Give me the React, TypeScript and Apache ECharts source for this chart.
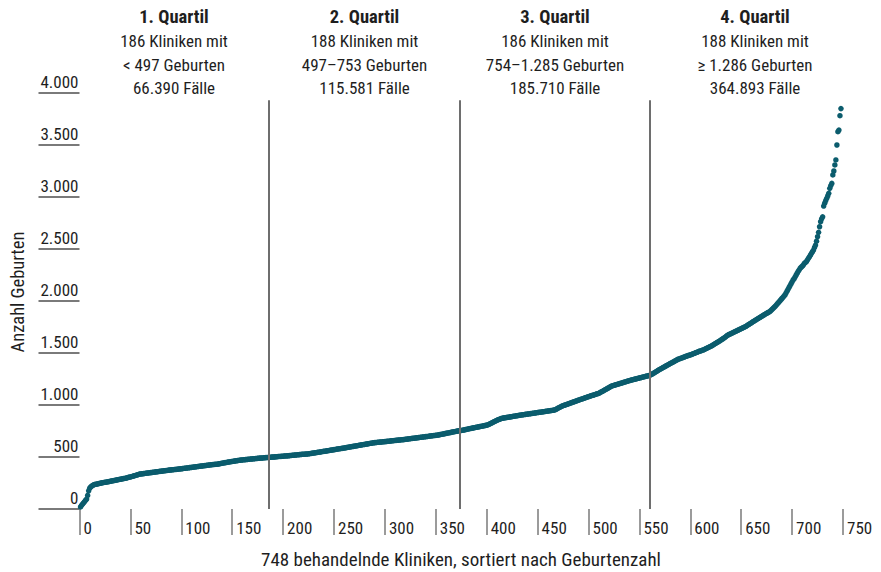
import React, { useEffect, useRef } from "react";
import * as echarts from "echarts";

// Births per clinic, sorted ascending, split by quartile
const q1Births = [
  20, 35, 48, 60, 72, 85, 95, 130, 175, 200,
  212, 220, 228, 232, 236, 238, 240, 242, 245, 247,
  249, 251, 253, 255, 257, 258, 260, 262, 264, 266,
  268, 270, 272, 274, 276, 278, 280, 282, 284, 286,
  288, 290, 292, 294, 295, 298, 301, 304, 306, 308,
  311, 314, 317, 320, 323, 326, 329, 332, 336, 337,
  338, 339, 341, 342, 343, 345, 346, 347, 349, 350,
  351, 353, 354, 355, 357, 358, 359, 361, 362, 363,
  364, 366, 367, 368, 370, 371, 372, 374, 375, 376,
  377, 378, 379, 380, 381, 382, 384, 385, 386, 387,
  388, 390, 391, 392, 394, 395, 396, 398, 399, 400,
  401, 403, 404, 405, 407, 408, 409, 411, 412, 413,
  414, 416, 417, 418, 420, 421, 422, 424, 425, 426,
  427, 428, 429, 430, 431, 432, 434, 436, 438, 440,
  442, 444, 446, 447, 449, 451, 452, 454, 456, 457,
  459, 461, 462, 464, 465, 467, 468, 470, 471, 472,
  473, 474, 475, 476, 477, 478, 479, 480, 481, 482,
  483, 484, 485, 486, 487, 488, 489, 490, 490, 491,
  492, 493, 494, 495, 496, 496,
];
const q2Births = [
  497, 498, 499, 500, 500, 501, 502, 503, 504, 505,
  505, 506, 507, 508, 509, 510, 510, 511, 512, 513,
  514, 515, 516, 517, 518, 519, 520, 521, 522, 523,
  524, 525, 526, 527, 527, 528, 528, 529, 531, 532,
  534, 535, 537, 538, 540, 541, 543, 545, 546, 548,
  549, 551, 553, 554, 556, 557, 559, 561, 562, 564,
  566, 567, 569, 571, 572, 574, 576, 577, 579, 580,
  582, 583, 585, 587, 588, 590, 592, 594, 595, 597,
  599, 601, 602, 604, 606, 607, 609, 611, 613, 614,
  616, 618, 620, 621, 623, 625, 626, 628, 630, 632,
  633, 635, 637, 638, 639, 640, 641, 642, 643, 644,
  645, 646, 647, 648, 649, 650, 651, 652, 653, 655,
  656, 657, 658, 659, 660, 661, 662, 663, 664, 665,
  666, 667, 668, 670, 671, 672, 674, 675, 676, 678,
  679, 680, 681, 683, 684, 685, 687, 688, 689, 690,
  692, 693, 694, 696, 697, 698, 699, 701, 702, 703,
  705, 706, 707, 708, 710, 711, 713, 715, 717, 719,
  721, 723, 725, 727, 729, 731, 733, 735, 737, 739,
  741, 743, 745, 747, 749, 751, 752, 753,
];
const q3Births = [
  755, 757, 759, 761, 763, 765, 767, 770, 772, 774,
  776, 778, 780, 782, 784, 786, 788, 790, 792, 794,
  796, 798, 800, 802, 804, 806, 808, 813, 818, 823,
  828, 833, 838, 843, 848, 853, 857, 861, 865, 869,
  872, 874, 876, 877, 879, 881, 882, 884, 886, 887,
  889, 891, 892, 894, 896, 897, 899, 901, 902, 904,
  905, 907, 908, 910, 911, 913, 914, 915, 917, 918,
  920, 921, 923, 924, 926, 927, 929, 930, 931, 933,
  934, 936, 937, 939, 940, 942, 943, 945, 946, 948,
  949, 951, 952, 958, 963, 969, 974, 979, 985, 990,
  993, 997, 1000, 1004, 1007, 1011, 1014, 1018, 1021, 1025,
  1028, 1032, 1035, 1039, 1042, 1046, 1049, 1053, 1056, 1060,
  1063, 1066, 1070, 1073, 1077, 1080, 1083, 1087, 1090, 1093,
  1096, 1099, 1103, 1106, 1109, 1112, 1117, 1123, 1128, 1134,
  1139, 1145, 1150, 1156, 1161, 1167, 1172, 1178, 1183, 1186,
  1189, 1192, 1195, 1198, 1201, 1204, 1207, 1210, 1213, 1216,
  1219, 1222, 1225, 1228, 1231, 1234, 1237, 1240, 1242, 1245,
  1247, 1250, 1252, 1255, 1257, 1260, 1262, 1265, 1267, 1270,
  1272, 1275, 1277, 1280, 1282, 1285,
];
const q4Births = [
  1289, 1295, 1300, 1306, 1312, 1318, 1324, 1330, 1337, 1342,
  1348, 1353, 1359, 1364, 1370, 1375, 1380, 1386, 1391, 1397,
  1402, 1408, 1413, 1418, 1424, 1429, 1435, 1440, 1443, 1447,
  1450, 1454, 1458, 1461, 1465, 1469, 1472, 1476, 1479, 1482,
  1485, 1489, 1493, 1497, 1501, 1505, 1509, 1513, 1517, 1520,
  1523, 1527, 1531, 1535, 1540, 1545, 1550, 1555, 1560, 1564,
  1568, 1575, 1581, 1587, 1593, 1599, 1605, 1611, 1617, 1623,
  1630, 1637, 1644, 1651, 1658, 1666, 1673, 1678, 1682, 1687,
  1692, 1697, 1701, 1706, 1711, 1715, 1720, 1725, 1729, 1734,
  1739, 1743, 1748, 1753, 1759, 1765, 1772, 1778, 1784, 1790,
  1797, 1803, 1809, 1815, 1822, 1828, 1834, 1840, 1846, 1852,
  1858, 1864, 1870, 1876, 1882, 1887, 1892, 1897, 1907, 1916,
  1926, 1936, 1945, 1956, 1967, 1979, 1990, 2001, 2013, 2024,
  2035, 2047, 2058, 2076, 2094, 2112, 2130, 2148, 2166, 2184,
  2202, 2215, 2232, 2250, 2268, 2285, 2300, 2315, 2325, 2335,
  2346, 2362, 2370, 2378, 2394, 2410, 2425, 2440, 2458, 2474,
  2490, 2515, 2538, 2575, 2618, 2660, 2714, 2763, 2790, 2810,
  2913, 2940, 2965, 2987, 3010, 3035, 3083, 3110, 3131, 3212,
  3250, 3308, 3356, 3500, 3628, 3644, 3782, 3850,
];

const quartileBounds = [186, 374, 560];
const quartileTitles = ["1. Quartil", "2. Quartil", "3. Quartil", "4. Quartil"];
const quartileLines = [
  ["186 Kliniken mit", "< 497 Geburten", "66.390 Fälle"],
  ["188 Kliniken mit", "497–753 Geburten", "115.581 Fälle"],
  ["186 Kliniken mit", "754–1.285 Geburten", "185.710 Fälle"],
  ["188 Kliniken mit", "≥ 1.286 Geburten", "364.893 Fälle"],
];
const xTitle = "748 behandelnde Kliniken, sortiert nach Geburtenzahl";
const yTitle = "Anzahl Geburten";

const FONT = "'Liberation Sans Narrow', 'Roboto Condensed', 'DejaVu Sans Condensed', sans-serif";
const DOT = "#0b5c6d";
const GRAY = "#7a7a7a";
const TEXT = "#1e1e1e";

function fmt(v: number): string {
  return String(v).replace(/\B(?=(\d{3})+(?!\d))/g, ".");
}

export default function App() {
  const ref = useRef<HTMLDivElement>(null);
  useEffect(() => {
    if (!ref.current) return;
    const chart = echarts.init(ref.current, null, { renderer: "svg" });
    const all = [...q1Births, ...q2Births, ...q3Births, ...q4Births];
    const data = all.map((v, i) => [i + 1, v]);

    const headerX = [174, 364.5, 555, 755];
    const graphic: any[] = [];
    quartileTitles.forEach((t, i) => {
      graphic.push({
        type: "text",
        x: headerX[i],
        y: 17,
        style: {
          text: t,
          fontFamily: FONT,
          fontSize: 18.5,
          fontWeight: "bold",
          fill: TEXT,
          textAlign: "center",
          textVerticalAlign: "middle",
        },
      });
      quartileLines[i].forEach((line, j) => {
        graphic.push({
          type: "text",
          x: headerX[i],
          y: 41 + j * 23.5,
          style: {
            text: line,
            fontFamily: FONT,
            fontSize: 17,
            fill: TEXT,
            textAlign: "center",
            textVerticalAlign: "middle",
          },
        });
      });
    });
    graphic.push({
      type: "text",
      x: 18,
      y: 292,
      rotation: Math.PI / 2,
      style: {
        text: yTitle,
        fontFamily: FONT,
        fontSize: 18.5,
        fill: TEXT,
        textAlign: "center",
        textVerticalAlign: "middle",
      },
    });
    graphic.push({
      type: "text",
      x: 461,
      y: 559,
      style: {
        text: xTitle,
        fontFamily: FONT,
        fontSize: 19,
        fill: TEXT,
        textAlign: "center",
        textVerticalAlign: "middle",
      },
    });

    chart.setOption({
      animation: false,
      grid: { left: 79.5, right: 38, top: 93, bottom: 63 },
      xAxis: {
        type: "value",
        min: 0,
        max: 750,
        interval: 50,
        axisLine: { show: false },
        splitLine: { show: false },
        axisTick: { show: true, length: 26, lineStyle: { color: GRAY, width: 1.5 } },
        axisLabel: {
          align: "left",
          margin: 10,
          padding: [0, 0, 0, 4],
          fontFamily: FONT,
          fontSize: 17,
          color: TEXT,
          showMinLabel: true,
          showMaxLabel: true,
        },
      },
      yAxis: {
        type: "value",
        min: 0,
        max: 4000,
        interval: 500,
        axisLine: { show: false },
        splitLine: { show: false },
        axisTick: { show: true, length: 41, lineStyle: { color: GRAY, width: 2 } },
        axisLabel: {
          margin: 1,
          verticalAlign: "bottom",
          padding: [0, 0, 3, 0],
          fontFamily: FONT,
          fontSize: 17,
          color: TEXT,
          formatter: (v: number) => fmt(v),
        },
      },
      graphic,
      series: [
        {
          type: "scatter",
          data,
          symbolSize: 5.5,
          itemStyle: { color: DOT, opacity: 1 },
          silent: true,
          markLine: {
            silent: true,
            symbol: "none",
            label: { show: false },
            lineStyle: { color: "#6e6e6e", width: 2, type: "solid" },
            data: quartileBounds.map((b) => [{ coord: [b, 0] }, { coord: [b, 3930] }]),
          },
        },
      ],
    });
    return () => chart.dispose();
  }, []);
  return (
    <div
      ref={ref}
      style={{ position: "absolute", left: 0, top: 0, width: 881, height: 572, background: "#fff" }}
    />
  );
}
